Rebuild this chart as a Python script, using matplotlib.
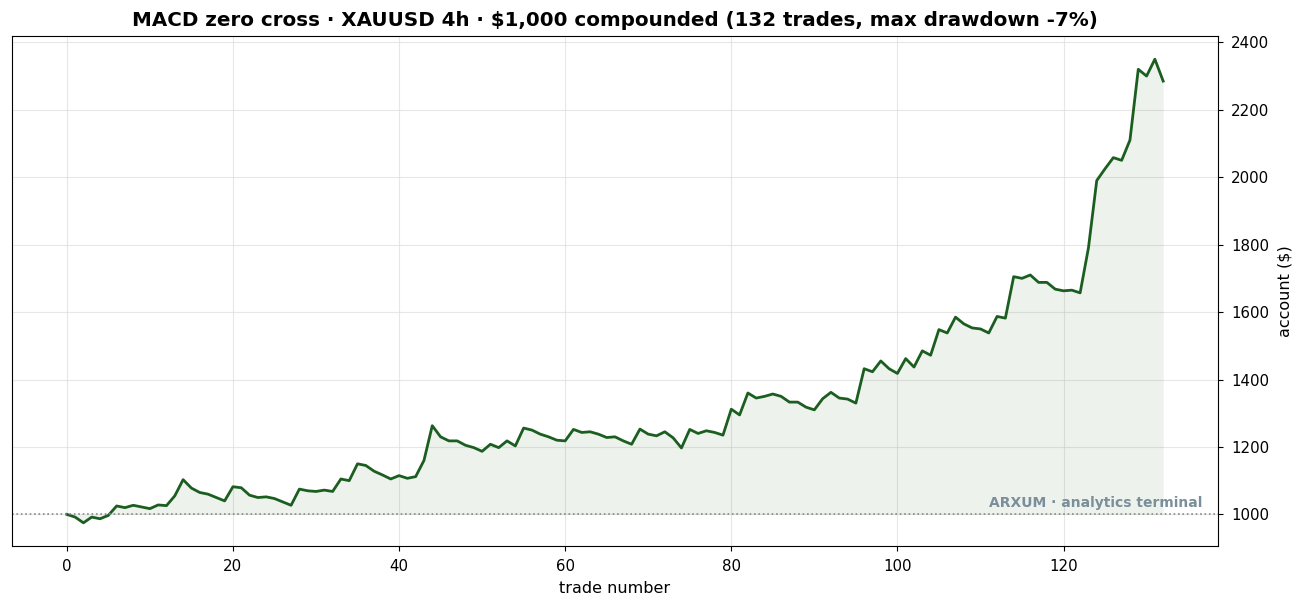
import matplotlib
matplotlib.use("Agg")
import matplotlib.pyplot as plt
import numpy as np

trades = list(range(133))
equity = [
    1000, 992, 975, 992, 987, 997, 1025, 1020, 1027, 1022,
    1017, 1028, 1026, 1055, 1103, 1078, 1065, 1060, 1050, 1040,
    1082, 1079, 1057, 1050, 1052, 1047, 1037, 1027, 1075, 1070,
    1068, 1072, 1068, 1105, 1100, 1150, 1145, 1128, 1117, 1105,
    1115, 1107, 1112, 1160, 1263, 1230, 1218, 1218, 1205, 1198,
    1187, 1208, 1198, 1218, 1203, 1256, 1250, 1238, 1230, 1220,
    1218, 1252, 1243, 1245, 1238, 1228, 1230, 1218, 1208, 1253,
    1238, 1233, 1245, 1227, 1197, 1252, 1240, 1248, 1243, 1235,
    1312, 1295, 1360, 1345, 1350, 1357, 1350, 1333, 1333, 1318,
    1310, 1343, 1362, 1345, 1342, 1330, 1432, 1423, 1455, 1432,
    1418, 1462, 1437, 1485, 1472, 1548, 1538, 1585, 1565, 1553,
    1550, 1538, 1587, 1582, 1705, 1700, 1710, 1688, 1688, 1668,
    1663, 1665, 1657, 1790, 1990, 2025, 2058, 2050, 2110, 2320,
    2300, 2350, 2285,
]
start_capital = 1000
title = "MACD zero cross · XAUUSD 4h · $1,000 compounded (132 trades, max drawdown -7%)"

fig = plt.figure(figsize=(13.09, 6.12), dpi=100)
ax = fig.add_axes([12/1309, 1-546/612, (1218-12)/1309, (546-36)/612])

color = "#1b5e20"
ax.plot(trades, equity, color=color, lw=2)
ax.fill_between(trades, equity, start_capital, color=color, alpha=0.08, lw=0)
ax.axhline(start_capital, color="#888888", ls=":", lw=1.2)

ax.yaxis.tick_right()
ax.yaxis.set_label_position("right")
ax.set_ylabel("account ($)", fontsize=11.5, labelpad=6)
ax.set_xlabel("trade number", fontsize=11.5, labelpad=5)
ax.set_title(title, fontsize=14.3, fontweight="bold", pad=7)
ax.grid(True, color="#dddddd", alpha=0.7, lw=0.8)
ax.set_axisbelow(True)
ax.tick_params(labelsize=10.8, pad=6)
ax.set_yticks([1000, 1200, 1400, 1600, 1800, 2000, 2200, 2400])

ax.text(0.987, 0.085, "ARXUM · analytics terminal", transform=ax.transAxes,
        ha="right", va="center", fontsize=10, fontweight="bold", color="#7a8f9a")

fig.savefig("out.png", dpi=100)
